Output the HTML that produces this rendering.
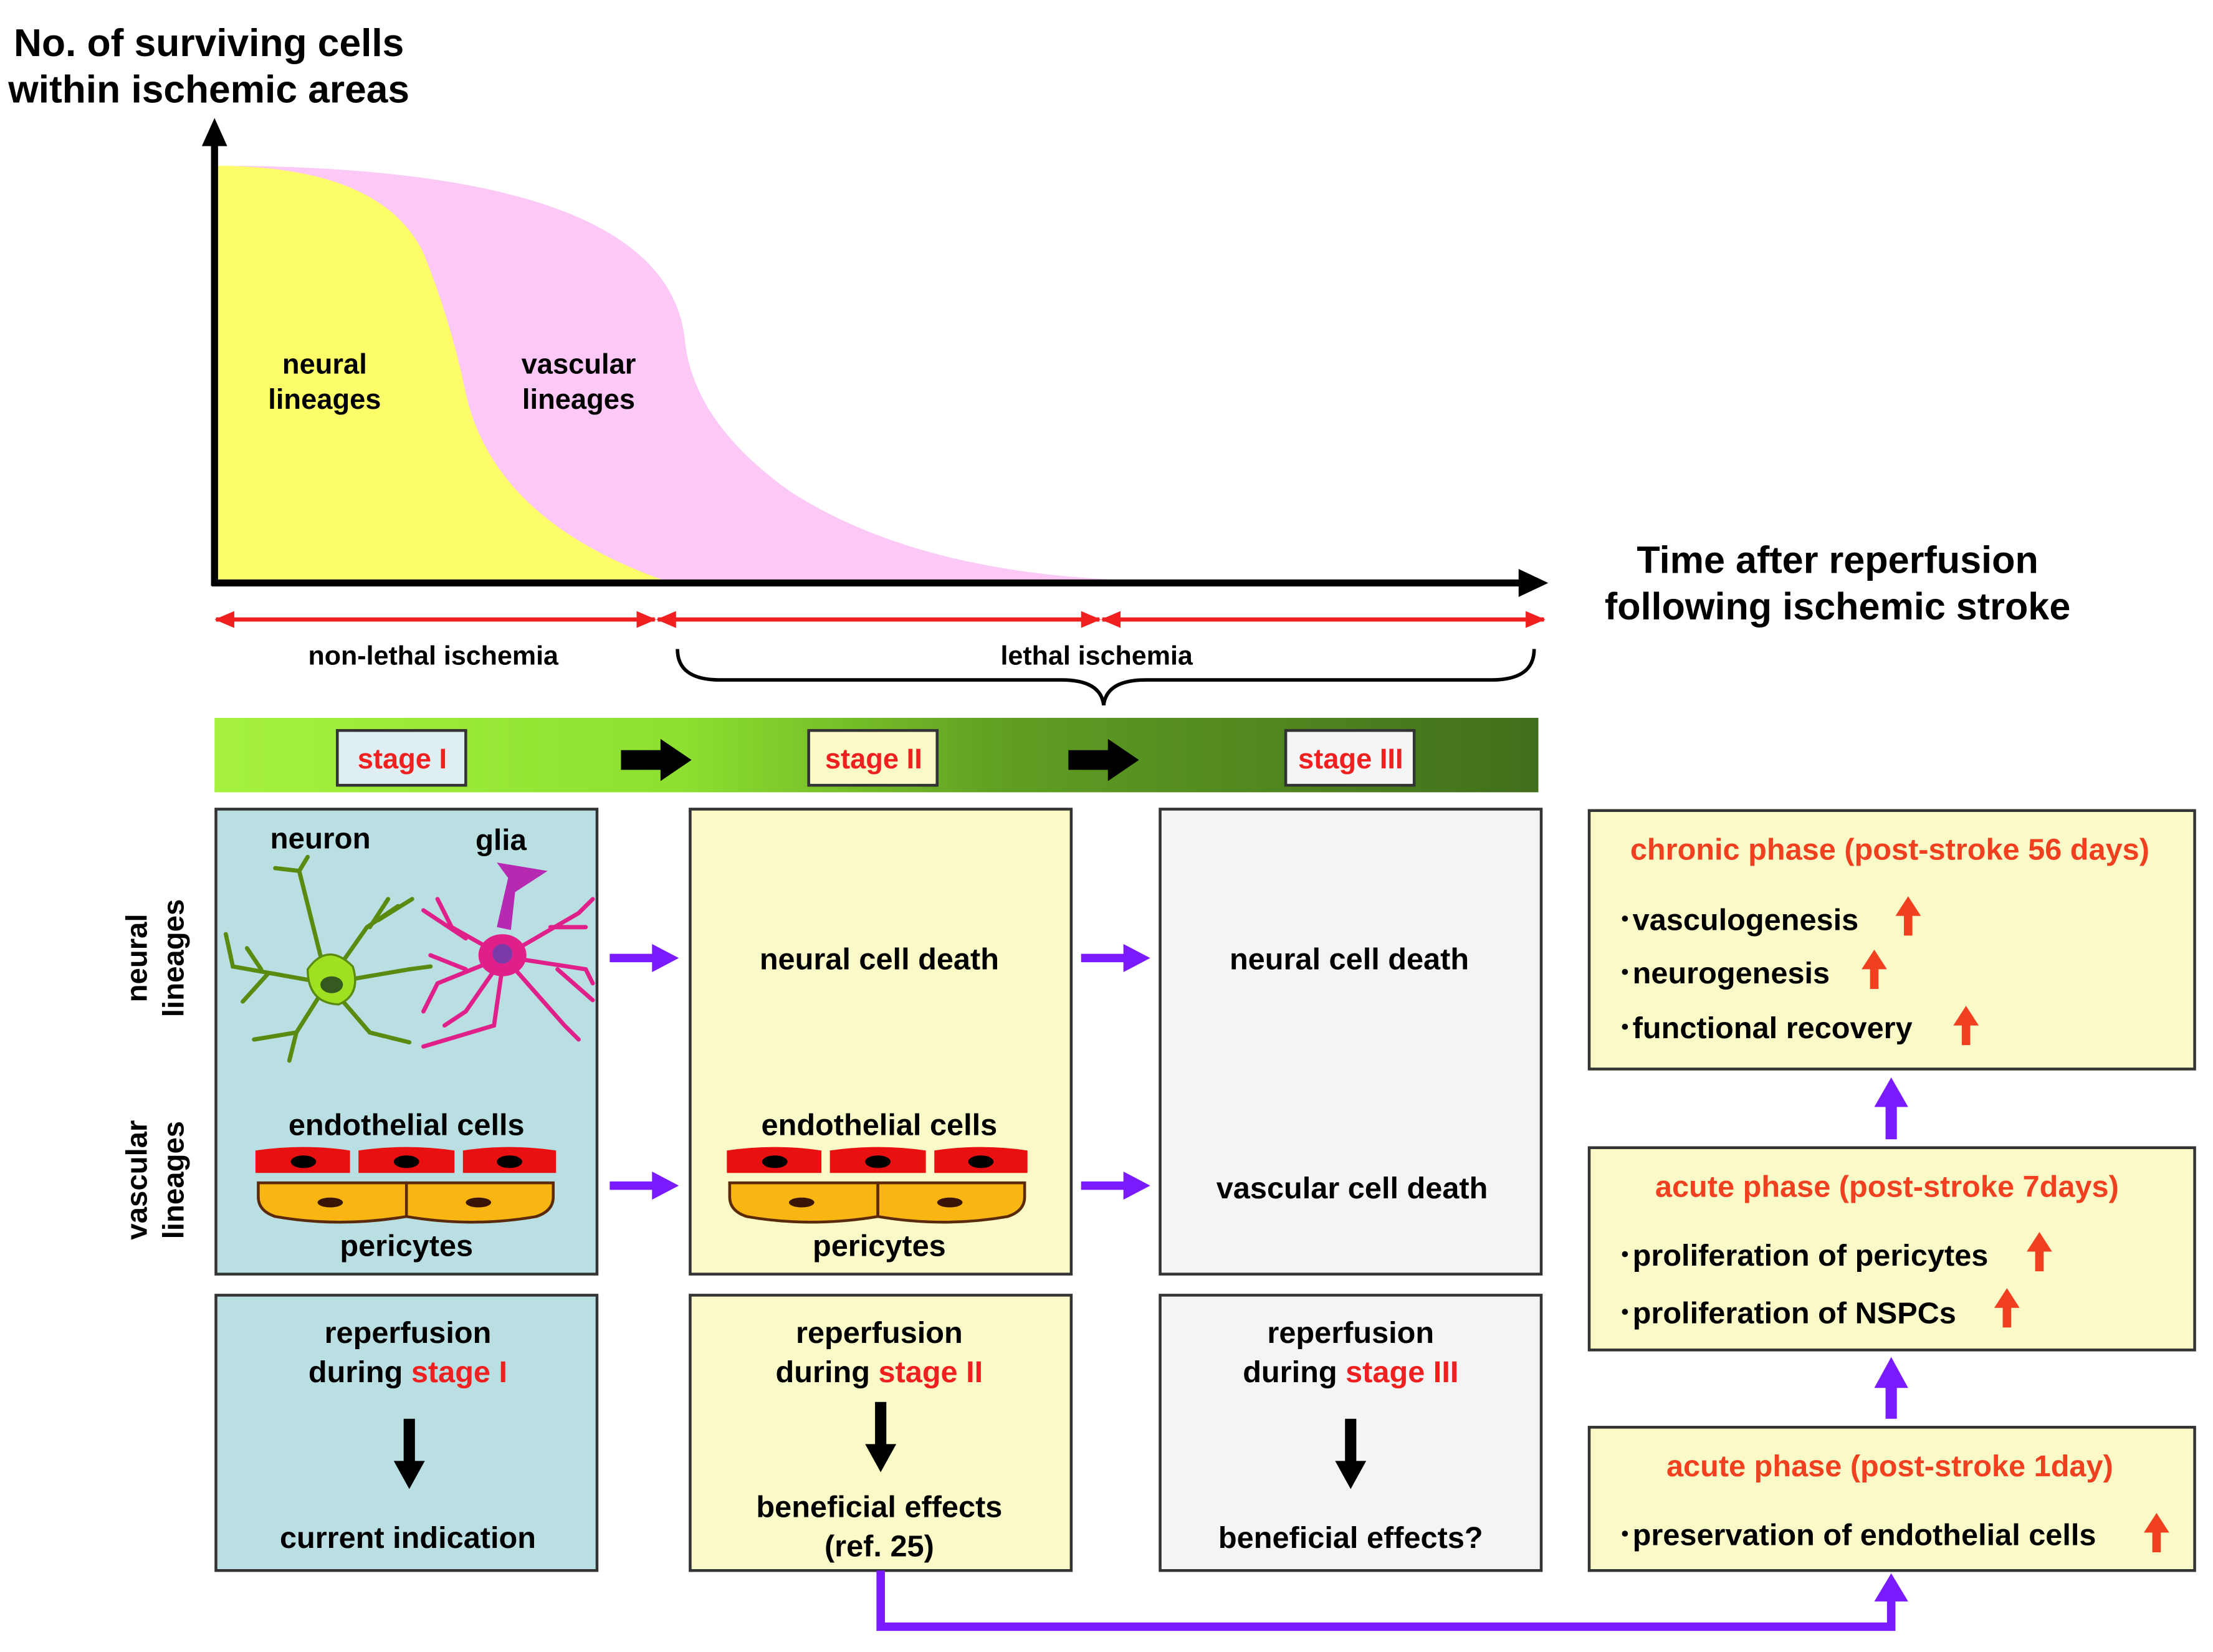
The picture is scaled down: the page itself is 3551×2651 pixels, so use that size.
<!DOCTYPE html>
<html><head><meta charset="utf-8"><style>html,body{margin:0;padding:0;background:#fff}svg{display:block}</style></head>
<body>
<svg width="3551" height="2651" viewBox="0 0 1568 1176" preserveAspectRatio="none" xmlns="http://www.w3.org/2000/svg" font-family="Liberation Sans, Arial, sans-serif" font-weight="bold">
<defs>
<linearGradient id="gb" x1="0" x2="1" y1="0" y2="0"><stop offset="0" stop-color="#a6f23e"/><stop offset="0.35" stop-color="#8ee030"/><stop offset="0.6" stop-color="#5f9e22"/><stop offset="1" stop-color="#426e1c"/></linearGradient>
<g id="cells">
<path d="M181,819 Q215,814 248,819 V835 H181 Z" fill="#e81010"/>
<path d="M254,819 Q288,814 322,819 V835 H254 Z" fill="#e81010"/>
<path d="M328,819 Q361,814 394,819 V835 H328 Z" fill="#e81010"/>
<ellipse cx="215" cy="827" rx="9" ry="4.5" fill="#000"/>
<ellipse cx="288" cy="827" rx="9" ry="4.5" fill="#000"/>
<ellipse cx="361" cy="827" rx="9" ry="4.5" fill="#000"/>
<path d="M183,842 H288 V866 Q240,874 195,866 Q183,862 183,852 Z" fill="#f9b512" stroke="#5a2a0a" stroke-width="2"/>
<path d="M288,842 H392 V852 Q392,862 380,866 Q335,874 288,866 Z" fill="#f9b512" stroke="#5a2a0a" stroke-width="2"/>
<ellipse cx="234" cy="856" rx="9" ry="3.5" fill="#3a1505"/>
<ellipse cx="339" cy="856" rx="9" ry="3.5" fill="#3a1505"/>
</g>
<marker id="ra" markerWidth="14" markerHeight="12" refX="13" refY="6" orient="auto" markerUnits="userSpaceOnUse"><path d="M0,0 L14,6 L0,12 Z" fill="#f02020"/></marker>
<marker id="rl" markerWidth="14" markerHeight="12" refX="1" refY="6" orient="auto" markerUnits="userSpaceOnUse"><path d="M14,0 L0,6 L14,12 Z" fill="#f02020"/></marker>
</defs>

<!-- title -->
<text x="148" y="40" font-size="27.5" text-anchor="middle">No. of surviving cells</text>
<text x="148" y="73" font-size="27.5" text-anchor="middle">within ischemic areas</text>

<!-- areas -->
<path d="M152,118 Q470,118 485,240 Q490,300 560,350 Q650,408 800,413 L152,413 Z" fill="#fcc8f6"/>
<path d="M152,118 Q270,118 300,180 Q320,230 330,280 Q350,370 470,413 L152,413 Z" fill="#fdfd6a"/>
<text x="230" y="266" font-size="20" text-anchor="middle">neural</text>
<text x="230" y="291" font-size="20" text-anchor="middle">lineages</text>
<text x="410" y="266" font-size="20" text-anchor="middle">vascular</text>
<text x="410" y="291" font-size="20" text-anchor="middle">lineages</text>

<!-- axes -->
<line x1="152" y1="417" x2="152" y2="100" stroke="#000" stroke-width="5"/>
<path d="M143,104 L152,84 L161,104 Z" fill="#000"/>
<line x1="150" y1="415" x2="1080" y2="415" stroke="#000" stroke-width="5"/>
<path d="M1076,405 L1097,415 L1076,425 Z" fill="#000"/>
<text x="1302" y="408" font-size="27" text-anchor="middle">Time after reperfusion</text>
<text x="1302" y="441" font-size="27" text-anchor="middle">following ischemic stroke</text>

<!-- red arrows -->
<g stroke="#f02020" stroke-width="3">
<line x1="153" y1="441" x2="464" y2="441" marker-start="url(#rl)" marker-end="url(#ra)"/>
<line x1="466" y1="441" x2="779" y2="441" marker-start="url(#rl)" marker-end="url(#ra)"/>
<line x1="781" y1="441" x2="1094" y2="441" marker-start="url(#rl)" marker-end="url(#ra)"/>
</g>
<text x="307" y="473" font-size="19" text-anchor="middle">non-lethal ischemia</text>
<text x="777" y="473" font-size="19" text-anchor="middle">lethal ischemia</text>
<path d="M480,462 Q480,484 510,484 L752,484 Q780,484 782,502 Q784,484 812,484 L1057,484 Q1087,484 1087,462" fill="none" stroke="#000" stroke-width="2.5"/>

<!-- gradient bar -->
<rect x="152" y="511" width="938" height="53" fill="url(#gb)"/>
<rect x="239" y="520" width="91" height="39" fill="#dfeef0" stroke="#333" stroke-width="2"/>
<text x="285" y="547" font-size="20" fill="#f02020" text-anchor="middle">stage I</text>
<rect x="573" y="520" width="91" height="39" fill="#fafac8" stroke="#333" stroke-width="2"/>
<text x="619" y="547" font-size="20" fill="#f02020" text-anchor="middle">stage II</text>
<rect x="911" y="520" width="91" height="39" fill="#f5f5f5" stroke="#333" stroke-width="2"/>
<text x="957" y="547" font-size="20" fill="#f02020" text-anchor="middle">stage III</text>
<path d="M440,534 H468 V526 L490,541 L468,556 V548 H440 Z" fill="#000"/>
<path d="M757,534 H785 V526 L807,541 L785,556 V548 H757 Z" fill="#000"/>

<!-- side labels -->
<text transform="translate(104,682) rotate(-90)" font-size="21" text-anchor="middle">neural</text>
<text transform="translate(130,682) rotate(-90)" font-size="21" text-anchor="middle">lineages</text>
<text transform="translate(104,840) rotate(-90)" font-size="21" text-anchor="middle">vascular</text>
<text transform="translate(130,840) rotate(-90)" font-size="21" text-anchor="middle">lineages</text>

<!-- main boxes -->
<rect x="153" y="576" width="270" height="331" fill="#b9dfe3" stroke="#333" stroke-width="2"/>
<rect x="489" y="576" width="270" height="331" fill="#fafac8" stroke="#333" stroke-width="2"/>
<rect x="822" y="576" width="270" height="331" fill="#f4f4f4" stroke="#333" stroke-width="2"/>
<rect x="153" y="922" width="270" height="196" fill="#b9dfe3" stroke="#333" stroke-width="2"/>
<rect x="489" y="922" width="270" height="196" fill="#fafac8" stroke="#333" stroke-width="2"/>
<rect x="822" y="922" width="270" height="196" fill="#f4f4f4" stroke="#333" stroke-width="2"/>

<!-- neuron -->
<text x="227" y="604" font-size="21" text-anchor="middle">neuron</text>
<text x="355" y="605" font-size="21" text-anchor="middle">glia</text>
<g stroke="#5a8a10" stroke-width="3" fill="none" stroke-linecap="round">
<path d="M232,700 L212,620 L195,618 M212,620 L218,610"/>
<path d="M232,700 L165,688 L160,665 M190,693 L172,713 M185,690 L175,675"/>
<path d="M232,700 L260,660 L282,645 M268,655 L292,640 M262,660 L275,640"/>
<path d="M232,700 L290,690 L305,688"/>
<path d="M232,700 L210,735 L205,755 M210,735 L180,740"/>
<path d="M232,700 L262,735 L290,742"/>
</g>
<path d="M218,690 Q232,670 250,688 Q256,708 240,715 Q218,714 218,690 Z" fill="#9fe020" stroke="#5a8a10" stroke-width="1.5"/>
<ellipse cx="235" cy="701" rx="8" ry="6" fill="#355a20"/>
<!-- glia -->
<g stroke="#e0208a" stroke-width="3" fill="none" stroke-linecap="round">
<path d="M357,681 L320,660 L310,640 M330,668 L300,648"/>
<path d="M357,681 L410,650 L420,640 M390,660 L415,660"/>
<path d="M357,681 L415,690 L420,700 M395,690 L420,712"/>
<path d="M357,681 L400,730 L410,740"/>
<path d="M357,681 L350,730 L300,745"/>
<path d="M357,681 L310,700 L300,720 M330,690 L305,680"/>
<path d="M357,681 L330,720 L315,730"/>
</g>
<path d="M352,660 L360,625 L352,614 L388,620 L365,635 L362,662 Z" fill="#b52ab0"/>
<ellipse cx="356" cy="680" rx="17" ry="15" fill="#e0208a"/>
<ellipse cx="356" cy="679" rx="7" ry="7" fill="#7a3aa8"/>

<!-- cells -->
<text x="288" y="808" font-size="21.5" text-anchor="middle">endothelial cells</text>
<use href="#cells"/>
<text x="288" y="894" font-size="21.5" text-anchor="middle">pericytes</text>
<text x="623" y="808" font-size="21.5" text-anchor="middle">endothelial cells</text>
<use href="#cells" transform="translate(334,0)"/>
<text x="623" y="894" font-size="21.5" text-anchor="middle">pericytes</text>

<text x="623" y="690" font-size="21.5" text-anchor="middle">neural cell death</text>
<text x="956" y="690" font-size="21.5" text-anchor="middle">neural cell death</text>
<text x="958" y="853" font-size="21.5" text-anchor="middle">vascular cell death</text>

<!-- purple arrows -->
<g fill="#7a1aff">
<path d="M432,679 H462 V672 L481,682 L462,692 V685 H432 Z"/>
<path d="M766,679 H796 V672 L815,682 L796,692 V685 H766 Z"/>
<path d="M432,841 H462 V834 L481,844 L462,854 V847 H432 Z"/>
<path d="M766,841 H796 V834 L815,844 L796,854 V847 H766 Z"/>
</g>

<!-- bottom boxes text -->
<text x="289" y="956" font-size="21.5" text-anchor="middle">reperfusion</text>
<text x="289" y="984" font-size="21.5" text-anchor="middle">during <tspan fill="#f02020">stage I</tspan></text>
<text x="289" y="1102" font-size="21.5" text-anchor="middle">current indication</text>
<text x="623" y="956" font-size="21.5" text-anchor="middle">reperfusion</text>
<text x="623" y="984" font-size="21.5" text-anchor="middle">during <tspan fill="#f02020">stage II</tspan></text>
<text x="623" y="1080" font-size="21.5" text-anchor="middle">beneficial effects</text>
<text x="623" y="1108" font-size="21.5" text-anchor="middle">(ref. 25)</text>
<text x="957" y="956" font-size="21.5" text-anchor="middle">reperfusion</text>
<text x="957" y="984" font-size="21.5" text-anchor="middle">during <tspan fill="#f02020">stage III</tspan></text>
<text x="957" y="1102" font-size="21.5" text-anchor="middle">beneficial effects?</text>
<g fill="#000">
<path d="M286,1010 H294 V1040 H301 L290,1060 L279,1040 H286 Z"/>
<path d="M620,998 H628 V1028 H635 L624,1048 L613,1028 H620 Z"/>
<path d="M953,1010 H961 V1040 H968 L957,1060 L946,1040 H953 Z"/>
</g>

<!-- right boxes -->
<rect x="1126" y="577" width="429" height="184" fill="#fafac8" stroke="#333" stroke-width="2"/>
<rect x="1126" y="817" width="429" height="144" fill="#fafac8" stroke="#333" stroke-width="2"/>
<rect x="1126" y="1016" width="429" height="102" fill="#fafac8" stroke="#333" stroke-width="2"/>
<text x="1339" y="612" font-size="21.5" fill="#f04020" text-anchor="middle">chronic phase (post-stroke 56 days)</text>
<text x="1146" y="662" font-size="21.5">･vasculogenesis</text>
<text x="1146" y="700" font-size="21.5">･neurogenesis</text>
<text x="1146" y="739" font-size="21.5">･functional recovery</text>
<text x="1337" y="852" font-size="21.5" fill="#f04020" text-anchor="middle">acute phase (post-stroke 7days)</text>
<text x="1146" y="901" font-size="21.5">･proliferation of pericytes</text>
<text x="1146" y="942" font-size="21.5">･proliferation of NSPCs</text>
<text x="1339" y="1051" font-size="21.5" fill="#f04020" text-anchor="middle">acute phase (post-stroke 1day)</text>
<text x="1146" y="1100" font-size="21.5">･preservation of endothelial cells</text>
<g fill="#f04020">
<path d="M1349,666 V652 H1343 L1352,638 L1361,652 H1355 V666 Z"/>
<path d="M1325,704 V690 H1319 L1328,676 L1337,690 H1331 V704 Z"/>
<path d="M1390,744 V730 H1384 L1393,716 L1402,730 H1396 V744 Z"/>
<path d="M1442,905 V891 H1436 L1445,877 L1454,891 H1448 V905 Z"/>
<path d="M1419,945 V931 H1413 L1422,917 L1431,931 H1425 V945 Z"/>
<path d="M1525,1105 V1091 H1519 L1528,1077 L1537,1091 H1531 V1105 Z"/>
</g>
<g fill="#7a1aff">
<path d="M1336,811 V788 H1328 L1340,767 L1352,788 H1344 V811 Z"/>
<path d="M1336,1010 V988 H1328 L1340,966 L1352,988 H1344 V1010 Z"/>
</g>
<path d="M624,1118 V1158 H1340 V1135" fill="none" stroke="#7a1aff" stroke-width="6"/>
<path d="M1328,1140 L1340,1120 L1352,1140 Z" fill="#7a1aff"/>
</svg>
</body></html>
